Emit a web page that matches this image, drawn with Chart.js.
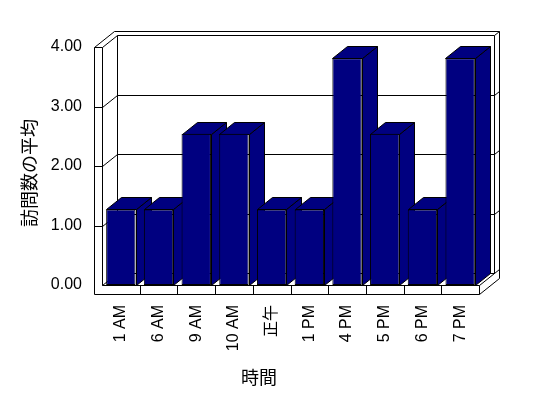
<!DOCTYPE html>
<html>
<head>
<meta charset="utf-8">
<script src="https://cdn.jsdelivr.net/npm/chart.js@4"></script>
<style>
  html, body { margin: 0; padding: 0; background: #fff; }
</style>
</head>
<body>
<canvas id="chart" width="548" height="398"></canvas>
<script>
const hours = ['1 AM', '6 AM', '9 AM', '10 AM', '正午', '1 PM', '4 PM', '5 PM', '6 PM', '7 PM'];
const avgVisits = [1.27, 1.27, 2.54, 2.54, 1.27, 1.27, 3.81, 2.54, 1.27, 3.81];
const yMax = 4;
const xTitle = '時間';
const yTitle = '訪問数の平均';

const FONT = "'Liberation Sans', 'Noto Sans CJK JP', sans-serif";
const NAVY = '#000080';

// 3d box: depth of interior, wall thickness behind it, slab sizes
const DX = 15, DY = -12;
const BX = 5, BY = -4;
const SLAB = 8, FLOOR = 9;

const px = v => Math.round(v) + 0.5;

function line(ctx, pts) {
  ctx.beginPath();
  ctx.moveTo(px(pts[0][0]), px(pts[0][1]));
  for (let i = 1; i < pts.length; i++) ctx.lineTo(px(pts[i][0]), px(pts[i][1]));
  ctx.stroke();
}

function poly(ctx, pts, fill) {
  ctx.beginPath();
  ctx.moveTo(px(pts[0][0]), px(pts[0][1]));
  for (let i = 1; i < pts.length; i++) ctx.lineTo(px(pts[i][0]), px(pts[i][1]));
  ctx.closePath();
  ctx.fillStyle = fill;
  ctx.fill();
  ctx.stroke();
}

const box3d = {
  id: 'box3d',
  beforeDatasetsDraw(chart) {
    const ctx = chart.ctx;
    const {left: L, right: R, bottom: B} = chart.chartArea;
    const ys = chart.scales.y;
    const xs = chart.scales.x;
    const T = ys.getPixelForValue(yMax);
    ctx.save();
    ctx.lineWidth = 1;
    ctx.strokeStyle = '#000';

    // outer silhouette of walls + floor
    poly(ctx, [
      [L - SLAB, T], [L - SLAB + DX + BX, T + DY + BY], [R + DX + BX, T + DY + BY],
      [R + DX + BX, B + FLOOR + DY + BY], [R, B + FLOOR], [L - SLAB, B + FLOOR]
    ], '#fff');

    line(ctx, [[L - SLAB, T], [L, T], [L, B]]);
    line(ctx, [[L, T], [L + DX, T + DY]]);
    line(ctx, [[L + DX, B + DY], [L + DX, T + DY], [R + DX, T + DY], [R + DX, B + DY]]);
    line(ctx, [[R + DX, T + DY], [R + DX + BX, T + DY + BY]]);
    line(ctx, [[L, B], [L + DX, B + DY], [R + DX, B + DY]]);
    line(ctx, [[L, B], [R, B], [R, B + FLOOR]]);
    line(ctx, [[R, B], [R + DX + BX, B + DY + BY]]);

    // gridlines across left wall and back wall
    for (let v = 1; v < yMax; v++) {
      const y = ys.getPixelForValue(v);
      line(ctx, [[L - SLAB, y], [L, y], [L + DX, y + DY], [R + DX, y + DY], [R + DX + BX, y + DY + BY]]);
    }

    // category ticks on floor front
    for (let i = 1; i < hours.length; i++) {
      const x = (xs.getPixelForValue(i - 1) + xs.getPixelForValue(i)) / 2;
      line(ctx, [[x, B], [x, B + FLOOR]]);
    }

    // side and top faces of each bar
    const bars = chart.getDatasetMeta(0).data;
    bars.forEach(bar => {
      const l = bar.x - bar.width / 2;
      const r = bar.x + bar.width / 2;
      poly(ctx, [[r, bar.y], [r + DX, bar.y + DY], [r + DX, bar.base + DY], [r, bar.base]], NAVY);
      poly(ctx, [[l, bar.y], [l + DX, bar.y + DY], [r + DX, bar.y + DY], [r, bar.y]], NAVY);
    });
    ctx.restore();
  },
  afterDraw(chart) {
    const ctx = chart.ctx;
    ctx.save();
    ctx.fillStyle = '#000';
    ctx.font = "18px 'Noto Sans CJK JP', sans-serif";
    ctx.textAlign = 'center';
    ctx.textBaseline = 'middle';
    ctx.fillText(xTitle, 259, 377);
    ctx.translate(29, 173);
    ctx.rotate(-Math.PI / 2);
    ctx.fillText(yTitle, 0, 0);
    ctx.restore();
  }
};

new Chart(document.getElementById('chart'), {
  type: 'bar',
  data: {
    labels: hours,
    datasets: [{
      data: avgVisits,
      backgroundColor: NAVY,
      borderColor: '#000',
      borderWidth: 1,
      borderSkipped: false,
      barPercentage: 0.78,
      categoryPercentage: 1
    }]
  },
  options: {
    responsive: false,
    animation: false,
    layout: { padding: { top: 47, right: 69, left: 0, bottom: 0 } },
    plugins: {
      legend: { display: false },
      tooltip: { enabled: false }
    },
    scales: {
      x: {
        grid: { display: false, drawTicks: false },
        border: { display: false },
        ticks: {
          color: '#000',
          font: { family: FONT, size: 16 },
          minRotation: 90,
          maxRotation: 90,
          autoSkip: false,
          padding: 20
        },
        afterFit(scale) { scale.height = 113; }
      },
      y: {
        min: 0,
        max: yMax,
        grid: { display: false, drawTicks: false },
        border: { display: false },
        ticks: {
          stepSize: 1,
          color: '#000',
          font: { family: FONT, size: 16 },
          padding: 20,
          callback: v => v.toFixed(2)
        },
        afterFit(scale) { scale.width = 102; }
      }
    }
  },
  plugins: [box3d]
});
</script>
</body>
</html>
